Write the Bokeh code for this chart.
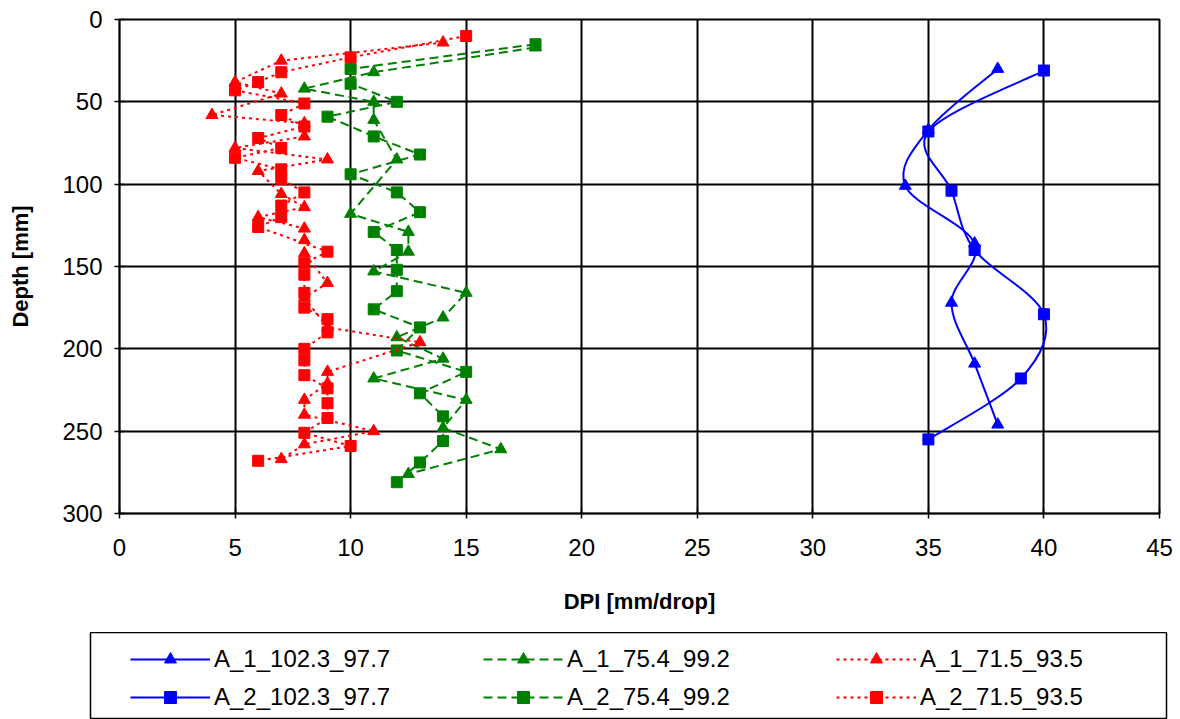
from bokeh.plotting import figure
from bokeh.models import Range1d, Legend, LegendItem, FixedTicker
from bokeh.layouts import column
from bokeh.embed import file_html
from bokeh.resources import INLINE

# ---------------- data ----------------
x_ticks = [0, 5, 10, 15, 20, 25, 30, 35, 40, 45]
y_ticks = [0, 50, 100, 150, 200, 250, 300]

blue_tri_dpi = [38, 35, 34, 37, 36, 37, 38]
blue_tri_depth = [30, 67, 101, 136, 172, 209, 246]
blue_sq_dpi = [40, 35, 36, 37, 40, 39, 35]
blue_sq_depth = [31, 68, 104, 140, 179, 218, 255]

green_tri_dpi = [18, 11, 8, 11, 11, 12, 10, 12.5, 12.5, 11, 15, 14, 12, 14, 11, 15, 14, 16.5, 12.5]
green_tri_depth = [17, 32, 42, 50, 61, 85, 118, 129, 141, 153, 166, 181, 193, 206, 218, 231, 248, 261, 276]
green_sq_dpi = [18, 10, 10, 12, 9, 11, 13, 10, 12, 13, 11, 12, 12, 12, 11, 13, 12, 15, 13, 14, 14, 13, 12]
green_sq_depth = [15, 30, 39, 50, 59, 71, 82, 94, 105, 117, 129, 140, 152, 165, 176, 187, 201, 214, 227, 241, 256, 269, 281]

red_tri_dpi = [14, 7, 5, 7, 4, 8, 8, 5, 9, 6, 7, 8, 6, 8, 8, 8, 9, 8, 9, 13, 9, 9, 8, 8, 11, 8, 7]
red_tri_depth = [14, 25, 38, 45, 58, 63, 71, 78, 85, 92, 106, 114, 120, 127, 134, 142, 160, 169, 187, 196, 214, 221, 231, 240, 250, 258, 267]
red_sq_dpi = [15, 10, 7, 6, 5, 8, 7, 8, 6, 7, 5, 7, 7, 8, 7, 7, 6, 9, 8, 8, 8, 8, 9, 9, 8, 8, 8, 9, 9, 9, 8, 10, 6]
red_sq_depth = [10, 23, 32, 38, 43, 51, 58, 65, 72, 78, 84, 91, 97, 105, 113, 120, 126, 141, 148, 155, 166, 175, 182, 190, 200, 207, 216, 224, 233, 242, 251, 259, 268]

series = [
    ("A_1_102.3_97.7", blue_tri_dpi, blue_tri_depth, "#0000FF", "triangle", "solid", True),
    ("A_2_102.3_97.7", blue_sq_dpi, blue_sq_depth, "#0000FF", "square", "solid", True),
    ("A_1_75.4_99.2", green_tri_dpi, green_tri_depth, "#008000", "triangle", "9 5", False),
    ("A_2_75.4_99.2", green_sq_dpi, green_sq_depth, "#008000", "square", "9 5", False),
    ("A_1_71.5_93.5", red_tri_dpi, red_tri_depth, "#FF0000", "triangle", "3 4", False),
    ("A_2_71.5_93.5", red_sq_dpi, red_sq_depth, "#FF0000", "square", "3 4", False),
]

FONT = "Liberation Sans"


def smooth_segments(xs, ys):
    n = len(xs)
    out = {k: [] for k in ("x0", "y0", "x1", "y1", "cx0", "cy0", "cx1", "cy1")}
    for i in range(n - 1):
        xp, yp = (xs[i - 1], ys[i - 1]) if i > 0 else (xs[i], ys[i])
        xn, yn = (xs[i + 2], ys[i + 2]) if i + 2 < n else (xs[i + 1], ys[i + 1])
        out["x0"].append(xs[i]); out["y0"].append(ys[i])
        out["x1"].append(xs[i + 1]); out["y1"].append(ys[i + 1])
        out["cx0"].append(xs[i] + (xs[i + 1] - xp) / 6.0)
        out["cy0"].append(ys[i] + (ys[i + 1] - yp) / 6.0)
        out["cx1"].append(xs[i + 1] - (xn - xs[i]) / 6.0)
        out["cy1"].append(ys[i + 1] - (yn - ys[i]) / 6.0)
    return out


# ---------------- main chart ----------------
p = figure(width=1180, height=632, x_range=Range1d(0, 45), y_range=Range1d(300, 0),
           output_backend="svg", toolbar_location=None,
           min_border_left=119, min_border_right=21, min_border_top=19, min_border_bottom=119)
p.background_fill_color = "white"
p.border_fill_color = "white"
p.outline_line_color = "black"
p.outline_line_width = 2

p.xaxis.ticker = FixedTicker(ticks=x_ticks)
p.yaxis.ticker = FixedTicker(ticks=y_ticks)
for ax in (p.xaxis, p.yaxis):
    ax.axis_line_color = "black"
    ax.axis_line_width = 1.5
    ax.major_tick_line_color = "black"
    ax.major_tick_line_width = 1.5
    ax.major_tick_in = 5
    ax.major_tick_out = 5
    ax.minor_tick_line_color = None
    ax.major_label_text_font = FONT
    ax.major_label_text_font_size = "24px"
    ax.major_label_text_color = "black"
    ax.axis_label_text_font = FONT
    ax.axis_label_text_font_size = "22px"
    ax.axis_label_text_font_style = "bold"
    ax.axis_label_text_color = "black"
p.xaxis.axis_label = "DPI [mm/drop]"
p.yaxis.axis_label = "Depth [mm]"
p.xaxis.major_label_standoff = 20
p.xaxis.axis_label_standoff = 30
p.yaxis.major_label_standoff = 12
p.yaxis.axis_label_standoff = 26

p.xgrid.grid_line_color = "black"
p.ygrid.grid_line_color = "black"
p.xgrid.grid_line_width = 2
p.ygrid.grid_line_width = 2

for name, xs, ys, color, marker, dash, smooth in series:
    if smooth:
        seg = smooth_segments(xs, ys)
        p.bezier(line_color=color, line_width=2, **seg)
    else:
        p.line(xs, ys, line_color=color, line_width=2, line_dash=dash)
    p.scatter(xs, ys, marker=marker, size=12 if marker == "triangle" else 11,
              fill_color=color, line_color=color)

# ---------------- legend panel (its frame outline is the legend box) ----------------
p2 = figure(width=1180, height=87, x_range=Range1d(-2, -1), y_range=Range1d(-2, -1),
            output_backend="svg", toolbar_location=None, x_axis_type=None, y_axis_type=None,
            min_border_left=90, min_border_right=14, min_border_top=0, min_border_bottom=0)
p2.grid.visible = False
p2.outline_line_color = "black"
p2.outline_line_width = 1.5
p2.border_fill_color = "white"
p2.background_fill_color = "white"

for fig in (p, p2):
    try:
        fig.frame_align = False
    except Exception:
        pass

items = []
for name, xs, ys, color, marker, dash, smooth in series:
    rl = p2.line(xs, ys, line_color=color, line_width=2, line_dash=dash)
    rs = p2.scatter(xs, ys, marker=marker, size=11, fill_color=color, line_color=color)
    items.append(LegendItem(label=name, renderers=[rl, rs]))

leg = Legend(items=items, location=(40, 7), orientation="vertical", nrows=2,
             glyph_width=80, glyph_height=30, label_standoff=4, label_width=261,
             spacing=8, padding=0, margin=0,
             label_text_font=FONT, label_text_font_size="24px", label_text_color="black",
             border_line_alpha=0, background_fill_alpha=0)
p2.add_layout(leg, "center")

layout = column(p, p2, spacing=0)
open("out.html", "w").write(file_html(layout, INLINE))
